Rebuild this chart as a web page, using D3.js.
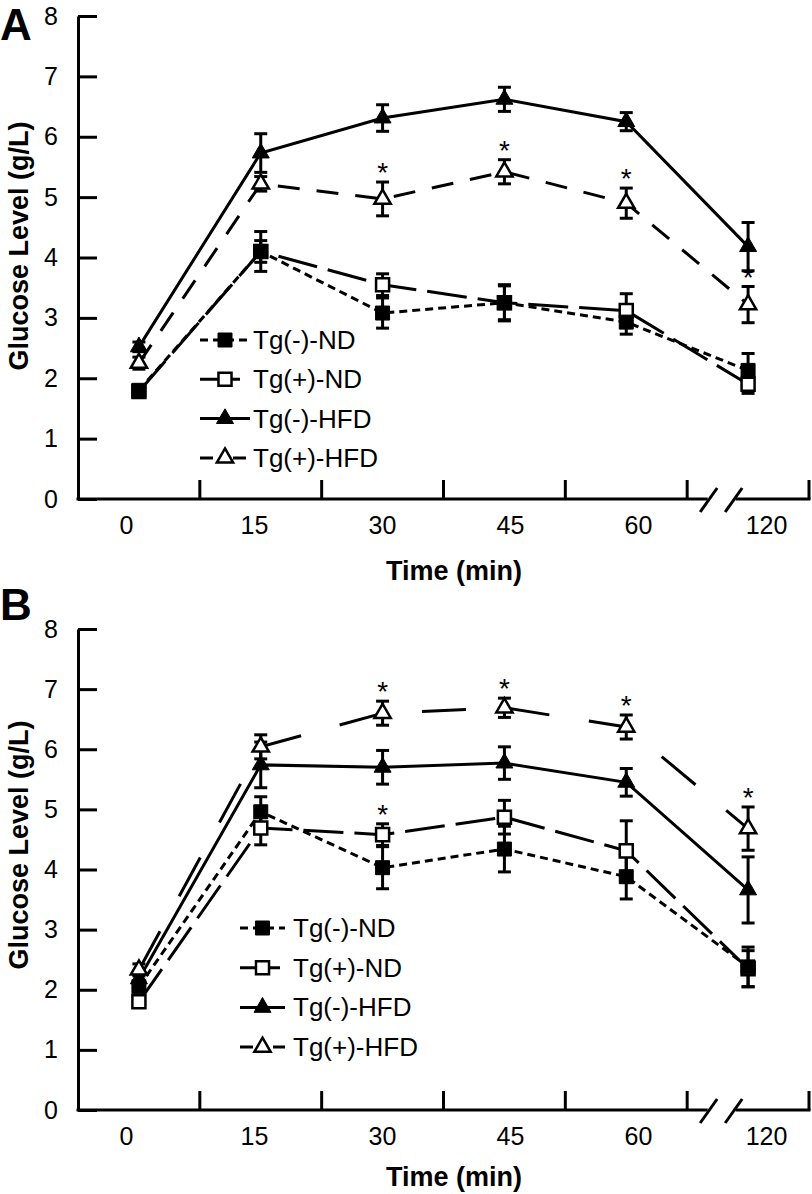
<!DOCTYPE html>
<html><head><meta charset="utf-8">
<script src="https://cdn.jsdelivr.net/npm/d3@7"></script>
<style>
body{margin:0;background:#fff}
svg{display:block}
text{font-family:Arial,"Liberation Sans",sans-serif;fill:#000}
</style>
</head><body>
<svg id="chart" width="812" height="1194"></svg>
<script>
// ---------- data ----------
const categories = ["0", "15", "30", "45", "60", "120"];
const seriesNames = ["Tg(-)-ND", "Tg(+)-ND", "Tg(-)-HFD", "Tg(+)-HFD"];
const yTickValues = [0, 1, 2, 3, 4, 5, 6, 7, 8];

// Panel A (means and error values, g/L)
const aNegND     = [1.80, 4.10, 3.08, 3.25, 2.93, 2.13];
const aNegNDErr  = [0.08, 0.18, 0.25, 0.30, 0.20, 0.28];
const aPosND     = [1.78, 4.10, 3.55, 3.25, 3.12, 1.90];
const aPosNDErr  = [0.08, 0.33, 0.18, 0.28, 0.28, 0.15];
const aNegHFD    = [2.52, 5.73, 6.31, 6.62, 6.25, 4.18];
const aNegHFDErr = [0.08, 0.32, 0.22, 0.20, 0.15, 0.40];
const aPosHFD    = [2.25, 5.22, 4.97, 5.42, 4.90, 3.22];
const aPosHFDErr = [0.10, 0.12, 0.28, 0.20, 0.25, 0.30];
const aSignificant = [[], [], [], ["30", "45", "60", "120"]];

// Panel B
const bNegND     = [2.05, 4.96, 4.03, 4.34, 3.88, 2.38];
const bNegNDErr  = [0.08, 0.25, 0.35, 0.38, 0.37, 0.33];
const bPosND     = [1.80, 4.69, 4.58, 4.87, 4.31, 2.35];
const bPosNDErr  = [0.06, 0.28, 0.18, 0.28, 0.50, 0.30];
const bNegHFD    = [2.18, 5.74, 5.70, 5.77, 5.45, 3.66];
const bNegHFDErr = [0.10, 0.38, 0.28, 0.27, 0.23, 0.55];
const bPosHFD    = [2.33, 6.04, 6.60, 6.69, 6.37, 4.68];
const bPosHFDErr = [0.10, 0.20, 0.20, 0.16, 0.20, 0.36];
const bSignificant = [[], ["30"], [], ["30", "45", "60", "120"]];

// ---------- styles ----------
const seriesStyle = [
  {symbol: d3.symbolSquare,   size: 196, fill: "#000", dash: ["8,5", "8,5"]},
  {symbol: d3.symbolSquare,   size: 170, fill: "#fff", dash: ["40,11", "40,11"]},
  {symbol: d3.symbolTriangle, size: 125, fill: "#000", dash: [null, null]},
  {symbol: d3.symbolTriangle, size: 115, fill: "#fff", dash: ["22,17", "44,40"]}
];
const markerOrder = [1, 0, 2, 3];

const svg = d3.select("#chart");
const X0 = 78, X1 = 809;

const panels = [
  {letter: "A", letterY: 40, top: 16, bottom: 499, idx: 0,
   values: [aNegND, aPosND, aNegHFD, aPosHFD],
   errs: [aNegNDErr, aPosNDErr, aNegHFDErr, aPosHFDErr],
   sig: aSignificant, yTitleC: 246, xTitleY: 580,
   legX: 200, legLen: 50, legTextX: 253, legY0: 340, legStep: 39.3},
  {letter: "B", letterY: 620, top: 629, bottom: 1110, idx: 1,
   values: [bNegND, bPosND, bNegHFD, bPosHFD],
   errs: [bNegNDErr, bPosNDErr, bNegHFDErr, bPosHFDErr],
   sig: bSignificant, yTitleC: 845, xTitleY: 1186,
   legX: 240, legLen: 45, legTextX: 293, legY0: 928, legStep: 39.7}
];

panels.forEach(p => {
  const g = svg.append("g");
  const y = d3.scaleLinear().domain([0, 8]).range([p.bottom, p.top]);
  const xb = d3.scaleBand().domain(categories).range([X0, X1]).paddingInner(0).paddingOuter(0);
  const cx = c => xb(c) + xb.bandwidth() / 2;
  const xl = d3.scalePoint().domain(categories).range([126, 766]);

  // panel letter
  g.append("text").attr("x", 0).attr("y", p.letterY)
    .style("font-size", "44px").style("font-weight", "bold").text(p.letter);

  // y axis
  const yAxis = d3.axisLeft(y).tickValues(yTickValues).tickFormat(d3.format("d"))
    .tickSize(-19).tickSizeOuter(0).tickPadding(20);
  const ya = g.append("g").attr("transform", `translate(${X0},0)`).call(yAxis);
  ya.selectAll("path,line").attr("stroke", "#000").attr("stroke-width", 3);
  ya.selectAll("text").style("font-size", "25px").attr("fill", "#000");

  // x axis: labels from a point scale
  const xAxis = d3.axisBottom(xl).tickSize(0).tickPadding(17);
  const xa = g.append("g").attr("transform", `translate(0,${p.bottom})`).call(xAxis);
  xa.select(".domain").remove();
  xa.selectAll("text").style("font-size", "25px").attr("fill", "#000");

  // x axis line with break inside last band
  const lastStart = xb(categories[categories.length - 1]);
  const b1 = lastStart + 21, b2 = lastStart + 46;
  g.append("path")
    .attr("d", `M${X0},${p.bottom}H${b1 - 2}M${b2 + 4},${p.bottom}H${X1}`)
    .attr("stroke", "#000").attr("stroke-width", 3).attr("fill", "none").attr("stroke-linecap", "square");
  [b1, b2].forEach(bx => {
    g.append("line").attr("x1", bx - 8).attr("y1", p.bottom + 13).attr("x2", bx + 9).attr("y2", p.bottom - 11)
      .attr("stroke", "#000").attr("stroke-width", 3);
  });
  // x tick marks at band boundaries
  const edges = categories.slice(1).map(c => xb(c)).concat([X1]);
  g.selectAll(".xt").data(edges).enter().append("line")
    .attr("x1", d => d).attr("x2", d => d).attr("y1", p.bottom).attr("y2", p.bottom - 19)
    .attr("stroke", "#000").attr("stroke-width", 3);

  // axis titles
  g.append("text").attr("transform", `translate(28,${p.yTitleC}) rotate(-90)`)
    .attr("text-anchor", "middle").style("font-size", "27px").style("font-weight", "bold")
    .text("Glucose Level (g/L)");
  g.append("text").attr("x", 454).attr("y", p.xTitleY).attr("text-anchor", "middle")
    .style("font-size", "27px").style("font-weight", "bold").text("Time (min)");

  const line = d3.line().x(d => cx(d.c)).y(d => y(d.v));
  const data = p.values.map((vals, s) => categories.map((c, i) => ({c, v: vals[i], e: p.errs[s][i]})));

  // lines
  data.forEach((d, s) => {
    g.append("path").datum(d).attr("d", line).attr("fill", "none")
      .attr("stroke", "#000").attr("stroke-width", 3)
      .attr("stroke-dasharray", seriesStyle[s].dash[p.idx]);
  });
  // error bars
  data.forEach((d, s) => {
    const eb = g.append("g");
    d.forEach(pt => {
      const x = cx(pt.c), yt = y(pt.v + pt.e), yb = y(pt.v - pt.e);
      eb.append("line").attr("x1", x).attr("x2", x).attr("y1", yt).attr("y2", yb)
        .attr("stroke", "#000").attr("stroke-width", 3);
      [yt, yb].forEach(yy => eb.append("line").attr("x1", x - 6.5).attr("x2", x + 6.5)
        .attr("y1", yy).attr("y2", yy).attr("stroke", "#000").attr("stroke-width", 3));
    });
  });
  // markers
  markerOrder.forEach(s => {
    const d = data[s];
    const st = seriesStyle[s];
    g.selectAll(null).data(d).enter().append("path")
      .attr("d", d3.symbol().type(st.symbol).size(st.size))
      .attr("transform", pt => `translate(${cx(pt.c)},${y(pt.v)})`)
      .attr("fill", st.fill).attr("stroke", "#000").attr("stroke-width", st.fill === "#fff" ? 2.5 : 1);
  });
  // significance asterisks
  p.sig.forEach((cats, s) => {
    cats.forEach(c => {
      const i = categories.indexOf(c);
      const top = y(p.values[s][i] + p.errs[s][i]);
      g.append("text").attr("x", cx(c)).attr("y", top - 16 + 0.58 * 28)
        .attr("text-anchor", "middle").style("font-size", "28px").text("*");
    });
  });

  // legend
  seriesNames.forEach((name, s) => {
    const st = seriesStyle[s];
    const ly = p.legY0 + s * p.legStep;
    g.append("line").attr("x1", p.legX).attr("x2", p.legX + p.legLen).attr("y1", ly).attr("y2", ly)
      .attr("stroke", "#000").attr("stroke-width", 3)
      .attr("stroke-dasharray", s === 3 ? "13,20" : st.dash[0]);
    g.append("path").attr("d", d3.symbol().type(st.symbol).size(st.size)())
      .attr("transform", `translate(${p.legX + p.legLen / 2},${ly})`)
      .attr("fill", st.fill).attr("stroke", "#000").attr("stroke-width", st.fill === "#fff" ? 2.5 : 1);
    g.append("text").attr("x", p.legTextX).attr("y", ly + 9).style("font-size", "26px").text(name);
  });
});
</script>
</body></html>
